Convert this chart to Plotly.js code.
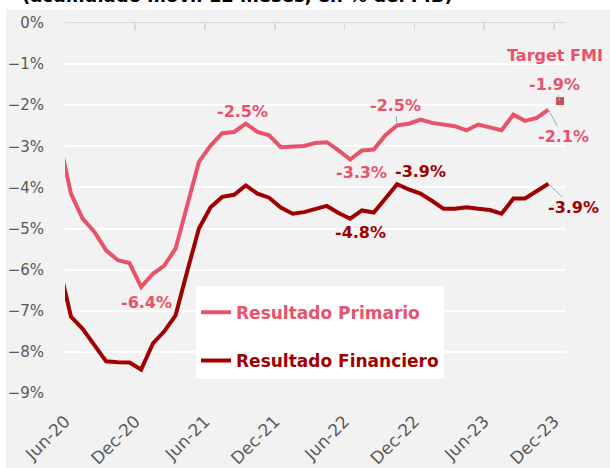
<!DOCTYPE html>
<html><head><meta charset="utf-8">
<script src="https://cdn.plot.ly/plotly-3.0.1.min.js"></script>
<style>html,body{margin:0;padding:0;background:#fff;} #chart{width:610px;height:468px;}</style>
</head><body><div id="chart"></div>
<script>
const months = ['2020-05','2020-06','2020-07','2020-08','2020-09','2020-10','2020-11','2020-12',
  '2021-01','2021-02','2021-03','2021-04','2021-05','2021-06','2021-07','2021-08','2021-09','2021-10','2021-11','2021-12',
  '2022-01','2022-02','2022-03','2022-04','2022-05','2022-06','2022-07','2022-08','2022-09','2022-10','2022-11','2022-12',
  '2023-01','2023-02','2023-03','2023-04','2023-05','2023-06','2023-07','2023-08','2023-09','2023-10','2023-11'];
const primario = [-2.84,-4.15,-4.76,-5.08,-5.53,-5.77,-5.84,-6.42,
  -6.10,-5.90,-5.49,-4.44,-3.38,-2.98,-2.68,-2.65,-2.45,-2.65,-2.73,-3.02,
  -3.00,-2.99,-2.92,-2.90,-3.10,-3.32,-3.10,-3.08,-2.73,-2.49,-2.45,-2.35,
  -2.43,-2.46,-2.51,-2.61,-2.47,-2.54,-2.61,-2.23,-2.38,-2.31,-2.11];
const financiero = [-5.92,-7.14,-7.44,-7.82,-8.23,-8.25,-8.26,-8.43,
  -7.79,-7.50,-7.11,-6.04,-5.00,-4.48,-4.23,-4.18,-3.95,-4.15,-4.25,-4.49,
  -4.64,-4.60,-4.52,-4.45,-4.62,-4.76,-4.56,-4.61,-4.27,-3.92,-4.05,-4.15,
  -4.33,-4.52,-4.52,-4.48,-4.52,-4.55,-4.64,-4.27,-4.27,-4.09,-3.91];
const targetMonth = ['2023-12'];
const targetValue = [-1.9];
const seriesNames = ['Resultado Primario','Resultado Financiero'];
const xTickVals = ['2020-06-01','2020-12-01','2021-06-01','2021-12-01','2022-06-01','2022-12-01','2023-06-01','2023-12-01'];
const xTickText = ['Jun-20','Dec-20','Jun-21','Dec-21','Jun-22','Dec-22','Jun-23','Dec-23'];
const yTickVals = [0,-1,-2,-3,-4,-5,-6,-7,-8,-9];
const yTickText = ['0%','\u22121%','\u22122%','\u22123%','\u22124%','\u22125%','\u22126%','\u22127%','\u22128%','\u22129%'];
const titleText = '(acumulado móvil 12 meses, en % del PIB)';

const PINK = '#E8536B', DARK = '#A00000', GREY = '#595959';
const FONT = 'DejaVu Sans';

const traces = [
  {x: months, y: primario, name: '<b><span style="color:'+PINK+'">'+seriesNames[0]+'</span></b>',
   type: 'scatter', mode: 'lines', line: {color: PINK, width: 4}, xperiod: 'M1', xperiodalignment: 'middle',
   legendgroup: 'a', hoverinfo: 'skip'},
  {x: months, y: financiero, name: '<b><span style="color:'+DARK+'">'+seriesNames[1]+'</span></b>',
   type: 'scatter', mode: 'lines', line: {color: DARK, width: 4}, xperiod: 'M1', xperiodalignment: 'middle',
   legendgroup: 'b', hoverinfo: 'skip'},
  {x: targetMonth, y: targetValue, name: 'Target FMI', type: 'scatter', mode: 'markers',
   marker: {symbol: 'square', size: 8, color: '#C9505A'}, xperiod: 'M1', xperiodalignment: 'middle',
   showlegend: false, hoverinfo: 'skip'},
  {x: [xTickVals[0]], y: [0], xaxis: 'x2', type: 'scatter', mode: 'markers', marker: {opacity: 0}, showlegend: false, hoverinfo: 'skip'}
];

function mid(m){ return m + '-16'; }
function at(arr, m){ return arr[months.indexOf(m)]; }
const lab = (txt, color, m, y, xs, ys) => ({x: mid(m), y: y, text: '<b>'+txt+'</b>', showarrow: false,
  xshift: xs, yshift: ys, font: {family: FONT, size: 16, color: color}});
const lead = (txt, color, m, y, ax, ay) => ({x: mid(m), y: y, text: '<b>'+txt+'</b>', showarrow: true,
  arrowhead: 0, arrowwidth: 1, arrowcolor: '#A6A6A6', ax: ax, ay: ay, standoff: 0,
  font: {family: FONT, size: 16, color: color}});

const annotations = [
  lab('-6.4%', PINK, '2020-12', at(primario,'2020-12'), 6, -16),
  lab('-2.5%', PINK, '2021-09', at(primario,'2021-09'), -3, 12),
  lab('-3.3%', PINK, '2022-06', at(primario,'2022-06'), 11, -13),
  lab('-4.8%', DARK, '2022-06', at(financiero,'2022-06'), 10, -14),
  lead('-2.5%', PINK, '2022-10', at(primario,'2022-10'), -1, -20),
  lab('-3.9%', DARK, '2022-10', at(financiero,'2022-10'), 24, 13),
  lead('-2.1%', PINK, '2023-11', at(primario,'2023-11'), 15, 27),
  lead('-3.9%', DARK, '2023-11', at(financiero,'2023-11'), 25, 24),
  lead('-1.9%', PINK, '2023-12', targetValue[0], -5, -17),
  lab('Target FMI', PINK, '2023-12', targetValue[0], -5, 46),
  {xref: 'paper', yref: 'paper', x: -0.09, y: 1.074, xanchor: 'left', yanchor: 'middle', showarrow: false,
   text: '<b>'+titleText+'</b>', font: {family: FONT, size: 18, color: '#000000'}}
];

const layout = {
  width: 610, height: 468,
  margin: {l: 65, r: 44, t: 23, b: 75, pad: 0},
  paper_bgcolor: '#F2F2F2', plot_bgcolor: '#F2F2F2',
  font: {family: FONT, color: GREY, size: 15},
  showlegend: true,
  legend: {x: 0.2615, y: 0.29, xanchor: 'left', yanchor: 'top', bgcolor: '#FFFFFF', borderwidth: 0,
    tracegroupgap: 23, font: {family: FONT, size: 17}, traceorder: 'grouped',
    title: {text: ' ', font: {family: FONT, size: 7}}},
  xaxis: {type: 'date', range: ['2020-05-31 12:00', '2024-01-01'], tickvals: xTickVals, ticktext: xTickText,
    tickangle: -45, showgrid: false, zeroline: false, showline: false, ticks: '',
    tickfont: {family: FONT, size: 17, color: GREY}, ticklabelstandoff: 14, fixedrange: true},
  xaxis2: {type: 'date', overlaying: 'x', matches: 'x', side: 'top', tickvals: xTickVals, showticklabels: false,
    showgrid: false, zeroline: false, showline: true, linecolor: '#D9D9D9', linewidth: 1.5,
    ticks: 'inside', ticklen: 7, tickwidth: 1.5, tickcolor: '#D9D9D9'},
  yaxis: {range: [-9, 0], tickvals: yTickVals, ticktext: yTickText, showgrid: true, gridcolor: '#FFFFFF', gridwidth: 2,
    zeroline: false, showline: false, ticks: '', tickfont: {family: FONT, size: 15, color: GREY}, ticklabelstandoff: 20},
  shapes: [
    {type: 'rect', xref: 'paper', yref: 'paper', x0: -0.2, x1: 1.2, y0: 1.0371, y1: 1.2, fillcolor: '#FFFFFF', line: {width: 0}, layer: 'below'},
    {type: 'rect', xref: 'paper', yref: 'paper', x0: -0.2, x1: -0.1178, y0: -0.3, y1: 1.2, fillcolor: '#FFFFFF', line: {width: 0}, layer: 'below'}
  ],
  annotations: annotations
};

Plotly.newPlot('chart', traces, layout, {displayModeBar: false, staticPlot: true});
</script></body></html>
